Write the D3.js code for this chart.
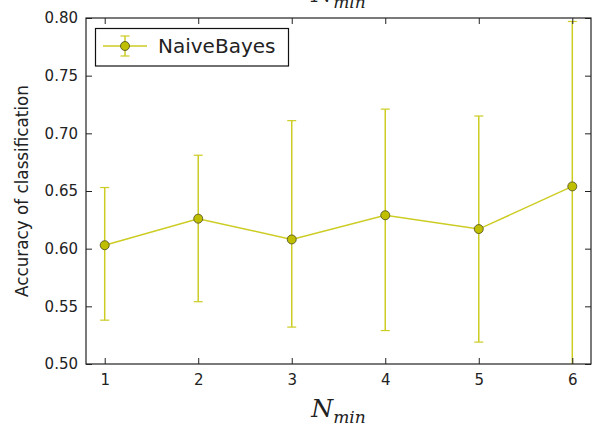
<!DOCTYPE html>
<html>
<head>
<meta charset="utf-8">
<script src="https://cdn.jsdelivr.net/npm/d3@7"></script>
<style>
  html, body { margin: 0; padding: 0; background: #fff; }
  svg { display: block; }
</style>
</head>
<body>
<script>
const categories = [1, 2, 3, 4, 5, 6];
const meanAcc  = [0.603, 0.626, 0.608, 0.629, 0.617, 0.654];
const upperAcc = [0.653, 0.681, 0.711, 0.721, 0.715, 0.797];
const lowerAcc = [0.538, 0.554, 0.532, 0.529, 0.519, 0.480];
const yTicks = [0.50, 0.55, 0.60, 0.65, 0.70, 0.75, 0.80];
const xTicks = [1, 2, 3, 4, 5, 6];
const seriesName = "NaiveBayes";

const W = 596, H = 434;
const L = 86, R = 591, T = 18, B = 364;
const lineColor = "#cccc22", fillColor = "#bfbf00";

const svg = d3.select("body").append("svg").attr("width", W).attr("height", H);
const x = d3.scaleLinear().domain([0.8, 6.2]).range([L, R]);
const y = d3.scaleLinear().domain([0.5, 0.8]).range([B, T]);

svg.append("defs").append("clipPath").attr("id", "clip")
  .append("rect").attr("x", L).attr("y", T).attr("width", R - L).attr("height", B - T);

const data = categories.map((c, i) => ({c, m: meanAcc[i], u: upperAcc[i], l: lowerAcc[i]}));
const plot = svg.append("g").attr("clip-path", "url(#clip)");

// error bars
const eb = plot.selectAll("g.eb").data(data).join("g").attr("class", "eb");
eb.append("line").attr("x1", d => x(d.c)).attr("x2", d => x(d.c))
  .attr("y1", d => y(d.l)).attr("y2", d => y(d.u))
  .attr("stroke", lineColor).attr("stroke-width", 1.5);
eb.append("line").attr("x1", d => x(d.c) - 4.5).attr("x2", d => x(d.c) + 4.5)
  .attr("y1", d => y(d.u)).attr("y2", d => y(d.u))
  .attr("stroke", lineColor).attr("stroke-width", 1.2);
eb.append("line").attr("x1", d => x(d.c) - 4.5).attr("x2", d => x(d.c) + 4.5)
  .attr("y1", d => y(d.l)).attr("y2", d => y(d.l))
  .attr("stroke", lineColor).attr("stroke-width", 1.2);

// connecting line
plot.append("path").datum(data)
  .attr("d", d3.line().x(d => x(d.c)).y(d => y(d.m)))
  .attr("fill", "none").attr("stroke", lineColor).attr("stroke-width", 1.5);

// markers
plot.selectAll("circle.pt").data(data).join("circle").attr("class", "pt")
  .attr("cx", d => x(d.c)).attr("cy", d => y(d.m)).attr("r", 4.5)
  .attr("fill", fillColor).attr("stroke", "#4a4a20").attr("stroke-width", 0.8);

// axes with inward ticks
const tickLen = 6;
const axL = svg.append("g").attr("transform", `translate(${L},0)`)
  .call(d3.axisLeft(y).tickValues(yTicks).tickSize(-tickLen).tickPadding(8).tickFormat(d3.format(".2f")));
const axR = svg.append("g").attr("transform", `translate(${R},0)`)
  .call(d3.axisRight(y).tickValues(yTicks).tickSize(-tickLen).tickFormat(""));
const axB = svg.append("g").attr("transform", `translate(0,${B})`)
  .call(d3.axisBottom(x).tickValues(xTicks).tickSize(-tickLen).tickPadding(10).tickFormat(d3.format("d")));
const axT = svg.append("g").attr("transform", `translate(0,${T})`)
  .call(d3.axisTop(x).tickValues(xTicks).tickSize(-tickLen).tickFormat(""));
[axL, axR, axB, axT].forEach(a => {
  a.select(".domain").remove();
  a.selectAll(".tick line").attr("stroke", "#222").attr("stroke-width", 1);
  a.selectAll("text").attr("font-family", "DejaVu Sans").attr("font-size", 15).attr("fill", "#222");
});

// frame
svg.append("rect").attr("x", L).attr("y", T).attr("width", R - L).attr("height", B - T)
  .attr("fill", "none").attr("stroke", "#222").attr("stroke-width", 1.2);

// labels
function mathLabel(cx, baseline) {
  const t = svg.append("text").attr("x", cx).attr("y", baseline).attr("text-anchor", "middle")
    .attr("font-family", "DejaVu Serif, Liberation Serif, serif").attr("font-style", "italic").attr("fill", "#222");
  t.append("tspan").attr("font-size", 25).text("N");
  t.append("tspan").attr("font-size", 17).attr("dy", 6).text("min");
}
mathLabel((L + R) / 2, 417);
mathLabel((L + R) / 2, 2);

svg.append("text").attr("transform", `translate(28,${(T + B) / 2}) rotate(-90)`)
  .attr("text-anchor", "middle").attr("font-family", "DejaVu Sans").attr("font-size", 16.8)
  .attr("fill", "#222").text("Accuracy of classification");

// legend
const lg = svg.append("g");
lg.append("rect").attr("x", 95.5).attr("y", 28.5).attr("width", 193).attr("height", 37.5)
  .attr("fill", "#fff").attr("stroke", "#111").attr("stroke-width", 1.2);
const ly = 46, lx = 125;
lg.append("line").attr("x1", 103).attr("x2", 147).attr("y1", ly).attr("y2", ly)
  .attr("stroke", lineColor).attr("stroke-width", 1.5);
lg.append("line").attr("x1", lx).attr("x2", lx).attr("y1", ly - 10).attr("y2", ly + 10)
  .attr("stroke", lineColor).attr("stroke-width", 1.5);
[ly - 10, ly + 10].forEach(yy => lg.append("line").attr("x1", lx - 4.5).attr("x2", lx + 4.5)
  .attr("y1", yy).attr("y2", yy).attr("stroke", lineColor).attr("stroke-width", 1.2));
lg.append("circle").attr("cx", lx).attr("cy", ly).attr("r", 4.5)
  .attr("fill", fillColor).attr("stroke", "#4a4a20").attr("stroke-width", 0.8);
lg.append("text").attr("x", 158).attr("y", ly + 7).attr("font-family", "DejaVu Sans")
  .attr("font-size", 20).attr("fill", "#222").text(seriesName);
</script>
</body>
</html>
